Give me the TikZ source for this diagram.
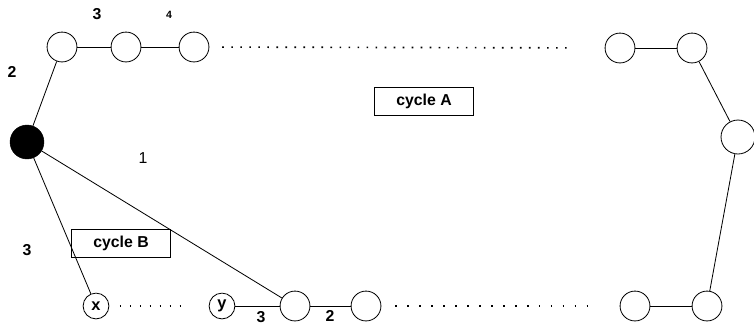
\documentclass[tikz,border=0pt]{standalone}
\usepackage{fontspec}
\setmainfont{Liberation Sans}
\usepackage{tikz}
\usetikzlibrary{positioning}

\tikzset{
  vtx/.style={circle, draw=black, line width=0.7pt, minimum size=25.5pt, inner sep=0pt},
  root/.style={circle, draw=black, fill=black, minimum size=29pt, inner sep=0pt},
  small/.style={circle, draw=black, line width=0.7pt, minimum size=22pt, inner sep=0pt, font=\bfseries\fontsize{14}{16}\selectfont},
  edge/.style={draw=black, line width=0.7pt},
  wt/.style={font=\bfseries\fontsize{13.5}{15}\selectfont},
  cyc/.style={rectangle, draw=black, line width=0.7pt, font=\bfseries\fontsize{13.5}{15}\selectfont, minimum width=85pt, minimum height=24pt}
}

\begin{document}
\begin{tikzpicture}[x=0.03cm, y=-0.03cm]
\useasboundingbox (0,0) rectangle (754,325);

% vertices of the shared root and the two cycles
\node [root] (r) at (27,142) {};
\node [vtx] (a1) at (62,47) {};
\node [vtx] (a2) at (126,47) {};
\node [vtx] (a3) at (194,47) {};
\node [vtx] (a4) at (620,48) {};
\node [vtx] (a5) at (692,48) {};
\node [vtx, minimum size=29pt] (a6) at (738,137) {};
\node [vtx] (a7) at (707,306) {};
\node [vtx] (a8) at (635,306) {};
\node [vtx] (b2) at (366,306) {};
\node [vtx] (b1) at (295,306) {};
\node [small] (y) at (222,306) {y};
\node [small] (x) at (96,306) {x};

% edges
\draw [edge] (r) to (a1);
\draw [edge] (a1) to (a2);
\draw [edge] (a2) to (a3);
\draw [edge] (a4) to (a5);
\draw [edge] (a5) to (a6);
\draw [edge] (a6) to (a7);
\draw [edge] (a7) to (a8);
\draw [edge] (b2) to (b1);
\draw [edge] (b1) to (y);
\draw [edge] (r) to (b1);
\draw [edge] (r) to (x);

% omitted parts of the paths
\draw [line width=1.4pt, dash pattern=on 1.4pt off 6.3pt, shorten <=11pt, shorten >=32pt] (a3) to (a4);
\draw [line width=1.4pt, dash pattern=on 1.4pt off 8.8pt, shorten <=12pt, shorten >=26pt] (b2) to (a8);
\draw [line width=1.4pt, dash pattern=on 1.4pt off 7.1pt, shorten <=9pt, shorten >=17pt] (x) to (y);

% weights
\node [wt] (w3t) at (97,14) {3};
\node [font=\bfseries\small] (w4t) at (169,15) {4};
\node [wt] (w2l) at (12,72) {2};
\node [font=\fontsize{13.5}{15}\selectfont] (w1) at (143,158) {1};
\node [wt] (w3l) at (27,250) {3};
\node [wt] (w3b) at (261,317) {3};
\node [wt] (w2b) at (330,316) {2};

% cycle labels
\node [cyc] (cA) at (424,101) {cycle A};
\node [cyc] (cB) at (121,243) {cycle B};
\end{tikzpicture}
\end{document}
